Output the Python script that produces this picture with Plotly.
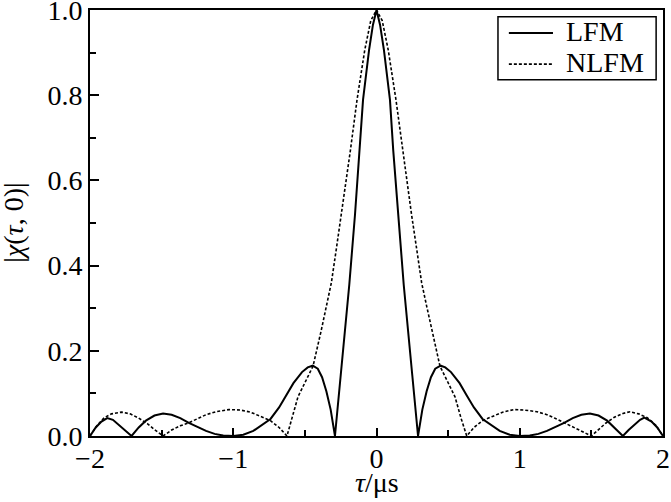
import plotly.graph_objects as go

# LFM |chi(tau, 0)|
tau_lfm = [-2.00, -1.96, -1.92, -1.88, -1.84, -1.80, -1.76, -1.71, -1.66, -1.61,
           -1.55, -1.49, -1.43, -1.37, -1.31, -1.25, -1.19, -1.13, -1.07, -1.00,
           -0.93, -0.86, -0.80, -0.74, -0.68, -0.63, -0.58, -0.52, -0.48, -0.445,
           -0.41, -0.38, -0.35, -0.32, -0.29, -0.25, -0.19, -0.15, -0.117, -0.094,
           -0.052, -0.025, 0.0,
           0.025, 0.052, 0.094, 0.117, 0.15, 0.19, 0.25, 0.29, 0.32, 0.35,
           0.38, 0.41, 0.448, 0.48, 0.52, 0.58, 0.63, 0.68, 0.74, 0.80,
           0.86, 0.93, 1.00, 1.07, 1.13, 1.19, 1.25, 1.31, 1.37, 1.43,
           1.49, 1.55, 1.61, 1.66, 1.72, 1.76, 1.80, 1.84, 1.87, 1.92,
           1.96, 2.00]
lfm = [0.000, 0.020, 0.034, 0.042, 0.038, 0.027, 0.014, 0.000, 0.020, 0.036,
       0.048, 0.053, 0.050, 0.042, 0.031, 0.021, 0.012, 0.005, 0.001, 0.000,
       0.003, 0.012, 0.025, 0.040, 0.067, 0.095, 0.124, 0.150, 0.161, 0.165,
       0.158, 0.138, 0.105, 0.062, 0.000, 0.142, 0.355, 0.520, 0.670, 0.789,
       0.906, 0.965, 1.000,
       0.965, 0.906, 0.789, 0.670, 0.520, 0.355, 0.142, 0.000, 0.062, 0.105,
       0.138, 0.158, 0.165, 0.161, 0.150, 0.124, 0.095, 0.067, 0.040, 0.025,
       0.012, 0.003, 0.000, 0.001, 0.005, 0.012, 0.021, 0.031, 0.042, 0.050,
       0.053, 0.048, 0.036, 0.020, 0.000, 0.014, 0.027, 0.038, 0.043, 0.034,
       0.020, 0.000]

# NLFM |chi(tau, 0)|
tau_nlfm = [-2.00, -1.95, -1.90, -1.85, -1.78, -1.72, -1.66, -1.60, -1.55, -1.49,
            -1.43, -1.37, -1.31, -1.25, -1.19, -1.12, -1.03, -0.95, -0.88, -0.81,
            -0.74, -0.68, -0.625, -0.59, -0.548, -0.50, -0.443, -0.385, -0.35, -0.315,
            -0.28, -0.245, -0.182, -0.136, -0.082, -0.04, 0.0,
            0.04, 0.082, 0.136, 0.182, 0.245, 0.28, 0.315, 0.35, 0.385, 0.443,
            0.50, 0.548, 0.59, 0.63, 0.68, 0.74, 0.81, 0.88, 0.96, 1.03,
            1.12, 1.19, 1.25, 1.31, 1.37, 1.43, 1.50, 1.55, 1.60, 1.66,
            1.72, 1.77, 1.83, 1.89, 1.95, 2.00]
nlfm = [0.000, 0.025, 0.043, 0.052, 0.056, 0.052, 0.042, 0.029, 0.015, 0.000,
        0.014, 0.024, 0.031, 0.041, 0.050, 0.057, 0.062, 0.061, 0.056, 0.046,
        0.036, 0.020, 0.000, 0.042, 0.092, 0.125, 0.164, 0.249, 0.305, 0.360,
        0.440, 0.519, 0.671, 0.789, 0.906, 0.975, 1.000,
        0.975, 0.906, 0.789, 0.671, 0.519, 0.440, 0.360, 0.305, 0.249, 0.164,
        0.125, 0.092, 0.042, 0.000, 0.020, 0.036, 0.046, 0.056, 0.062, 0.061,
        0.057, 0.050, 0.041, 0.031, 0.022, 0.012, 0.000, 0.015, 0.030, 0.044,
        0.053, 0.057, 0.052, 0.043, 0.025, 0.000]

names = ["LFM", "NLFM"]
dashes = ["solid", "3px,2px"]
widths = [2, 1.6]

FONT = "Liberation Serif"
FS = 28

fig = go.Figure()
fig.add_trace(go.Scatter(
    x=tau_lfm, y=lfm, mode="lines", name=names[0],
    line=dict(color="black", width=widths[0], dash=dashes[0])))
fig.add_trace(go.Scatter(
    x=tau_nlfm, y=nlfm, mode="lines", name=names[1],
    line=dict(color="black", width=widths[1], dash=dashes[1])))

# axis titles as annotations so they sit where the reference has them
fig.add_annotation(
    text="<i>τ</i>/μs", xref="paper", yref="paper",
    x=0.5, y=-0.11, xanchor="center", yanchor="middle",
    showarrow=False, font=dict(family=FONT, size=FS))
fig.add_annotation(
    text="|<i>χ</i>(<i>τ</i>, 0)|", xref="paper", yref="paper",
    x=-0.135, y=0.5, xanchor="center", yanchor="middle", textangle=-90,
    showarrow=False, font=dict(family=FONT, size=FS))

# hand-made legend box (plotly's own legend rows are too far apart)
fig.add_shape(type="rect", xref="paper", yref="paper",
              x0=0.712, x1=0.988, y0=0.836, y1=0.984,
              line=dict(color="black", width=1.5), fillcolor="white")
for name, dash, w, ly in zip(names, dashes, widths, [0.946, 0.873]):
    fig.add_shape(type="line", xref="paper", yref="paper",
                  x0=0.731, x1=0.808, y0=ly, y1=ly,
                  line=dict(color="black", width=w, dash=dash))
    fig.add_annotation(text=name, xref="paper", yref="paper",
                       x=0.827, y=ly + 0.004, xanchor="left", yanchor="middle",
                       showarrow=False, font=dict(family=FONT, size=FS))

fig.update_layout(
    width=671, height=502,
    margin=dict(l=90, r=8, t=10, b=66),
    plot_bgcolor="white", paper_bgcolor="white",
    font=dict(family=FONT, size=FS, color="black"),
    showlegend=False,
    xaxis=dict(
        range=[-2, 2], tickvals=[-2, -1, 0, 1, 2],
        ticks="inside", ticklen=8, tickwidth=1.5, tickcolor="black",
        minor=dict(tickvals=[-1.5, -0.5, 0.5, 1.5], ticks="inside",
                   ticklen=6, tickwidth=1.5, tickcolor="black"),
        showline=True, linewidth=2, linecolor="black", mirror=True,
        showgrid=False, zeroline=False, ticklabeloverflow="allow",
        ticklabelstandoff=-4, automargin=False,
    ),
    yaxis=dict(
        range=[0, 1], tickvals=[0, 0.2, 0.4, 0.6, 0.8, 1.0], tickformat=".1f",
        ticks="inside", ticklen=9, tickwidth=1.5, tickcolor="black",
        minor=dict(tickvals=[0.1, 0.3, 0.5, 0.7, 0.9], ticks="inside",
                   ticklen=6, tickwidth=1.5, tickcolor="black"),
        showline=True, linewidth=2, linecolor="black", mirror=True,
        showgrid=False, zeroline=False, ticklabeloverflow="allow",
        automargin=False,
    ),
)

# page body has a default 8px margin that shifts the figure; drop it
fig.write_html("out.html", config={"displayModeBar": False},
               post_script="document.body.style.margin = '0';")
